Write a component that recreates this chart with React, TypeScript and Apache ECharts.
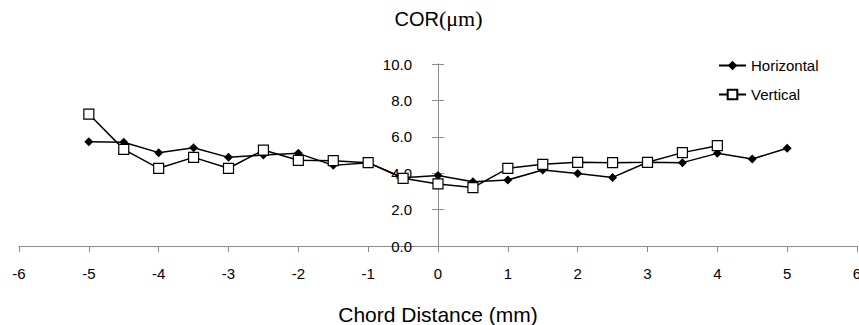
import React, { useEffect, useRef } from "react";
import * as echarts from "echarts";

const xValues = [-5, -4.5, -4, -3.5, -3, -2.5, -2, -1.5, -1, -0.5, 0, 0.5, 1, 1.5, 2, 2.5, 3, 3.5, 4, 4.5, 5];
const horizontal = [5.73, 5.7, 5.13, 5.4, 4.87, 5.0, 5.09, 4.43, 4.58, 3.75, 3.87, 3.53, 3.63, 4.18, 3.99, 3.77, 4.6, 4.58, 5.09, 4.78, 5.37];
const verticalX = [-5, -4.5, -4, -3.5, -3, -2.5, -2, -1.5, -1, -0.5, 0, 0.5, 1, 1.5, 2, 2.5, 3, 3.5, 4];
const vertical = [7.25, 5.31, 4.27, 4.87, 4.27, 5.27, 4.71, 4.69, 4.58, 3.72, 3.41, 3.21, 4.27, 4.49, 4.6, 4.58, 4.6, 5.13, 5.51];

const FONT = "'Liberation Sans', Arial, sans-serif";
const SERIF = "'Liberation Serif', 'DejaVu Serif', serif";
const AXIS_COLOR = "#8c8c8c";

export default function App() {
  const ref = useRef<HTMLDivElement>(null);
  useEffect(() => {
    if (!ref.current) return;
    const chart = echarts.init(ref.current, undefined, { renderer: "svg" });
    const yScale = { type: "value", min: 0, max: 10, interval: 2, splitLine: { show: false } };
    chart.setOption({
      animation: false,
      backgroundColor: "#ffffff",
      grid: [
        { left: 19, right: 2, top: 64, bottom: 79, containLabel: false, outerBoundsMode: "none" },
        { left: 438, right: 2, top: 64, bottom: 79, containLabel: false, outerBoundsMode: "none" },
      ],
      graphic: [
        {
          type: "text",
          x: 439,
          y: 19,
          style: {
            text: "COR",
            align: "right",
            verticalAlign: "middle",
            fontFamily: FONT,
            fontSize: 20,
            fill: "#000",
          },
        },
        {
          type: "text",
          x: 439,
          y: 18,
          style: {
            text: "(μm)",
            align: "left",
            verticalAlign: "middle",
            fontFamily: SERIF,
            fontSize: 22,
            fill: "#000",
          },
        },
      ],
      legend: {
        left: 713,
        top: 53,
        orient: "vertical",
        itemWidth: 27,
        itemHeight: 12,
        itemGap: 14,
        textStyle: { fontFamily: FONT, fontSize: 15, color: "#000" },
        data: ["Horizontal", "Vertical"],
      },
      xAxis: [
        {
          type: "value",
          gridIndex: 0,
          min: -6,
          max: 6,
          interval: 1,
          name: "Chord Distance (mm)",
          nameLocation: "middle",
          nameGap: 58,
          nameTextStyle: { fontFamily: FONT, fontSize: 21, color: "#000" },
          splitLine: { show: false },
          axisLine: { onZero: false, lineStyle: { color: AXIS_COLOR, width: 1 } },
          axisTick: { length: 6, lineStyle: { color: AXIS_COLOR } },
          axisLabel: { fontFamily: FONT, fontSize: 15, color: "#000", margin: 20 },
        },
        { type: "value", gridIndex: 1, min: 0, max: 6, show: false },
      ],
      yAxis: [
        { ...yScale, gridIndex: 0, show: false },
        {
          ...yScale,
          gridIndex: 1,
          position: "left",
          axisLine: { show: true, onZero: false, lineStyle: { color: AXIS_COLOR, width: 1 } },
          axisTick: { show: true, length: 6, lineStyle: { color: AXIS_COLOR } },
          axisLabel: {
            fontFamily: FONT,
            fontSize: 15,
            color: "#000",
            margin: 26,
            formatter: (v: number) => v.toFixed(1),
          },
        },
        {
          ...yScale,
          gridIndex: 1,
          position: "left",
          axisLine: { show: true, onZero: false, lineStyle: { color: AXIS_COLOR, width: 1 } },
          axisTick: { show: true, inside: true, length: 6, lineStyle: { color: AXIS_COLOR } },
          axisLabel: { show: false },
        },
      ],
      series: [
        {
          name: "Horizontal",
          type: "line",
          xAxisIndex: 0,
          yAxisIndex: 0,
          data: xValues.map((x, i) => [x, horizontal[i]]),
          symbol: "diamond",
          symbolSize: 9,
          showAllSymbol: true,
          itemStyle: { color: "#000" },
          lineStyle: { color: "#000", width: 1.5 },
          z: 3,
        },
        {
          name: "Vertical",
          type: "line",
          xAxisIndex: 0,
          yAxisIndex: 0,
          data: verticalX.map((x, i) => [x, vertical[i]]),
          symbol: "rect",
          symbolSize: 10,
          showAllSymbol: true,
          itemStyle: { color: "#fff", borderColor: "#000", borderWidth: 1.2 },
          lineStyle: { color: "#000", width: 1.5 },
          z: 4,
        },
      ],
    });
    return () => chart.dispose();
  }, []);
  return (
    <div
      ref={ref}
      style={{ position: "absolute", left: 0, top: 0, width: 859, height: 325 }}
    />
  );
}
